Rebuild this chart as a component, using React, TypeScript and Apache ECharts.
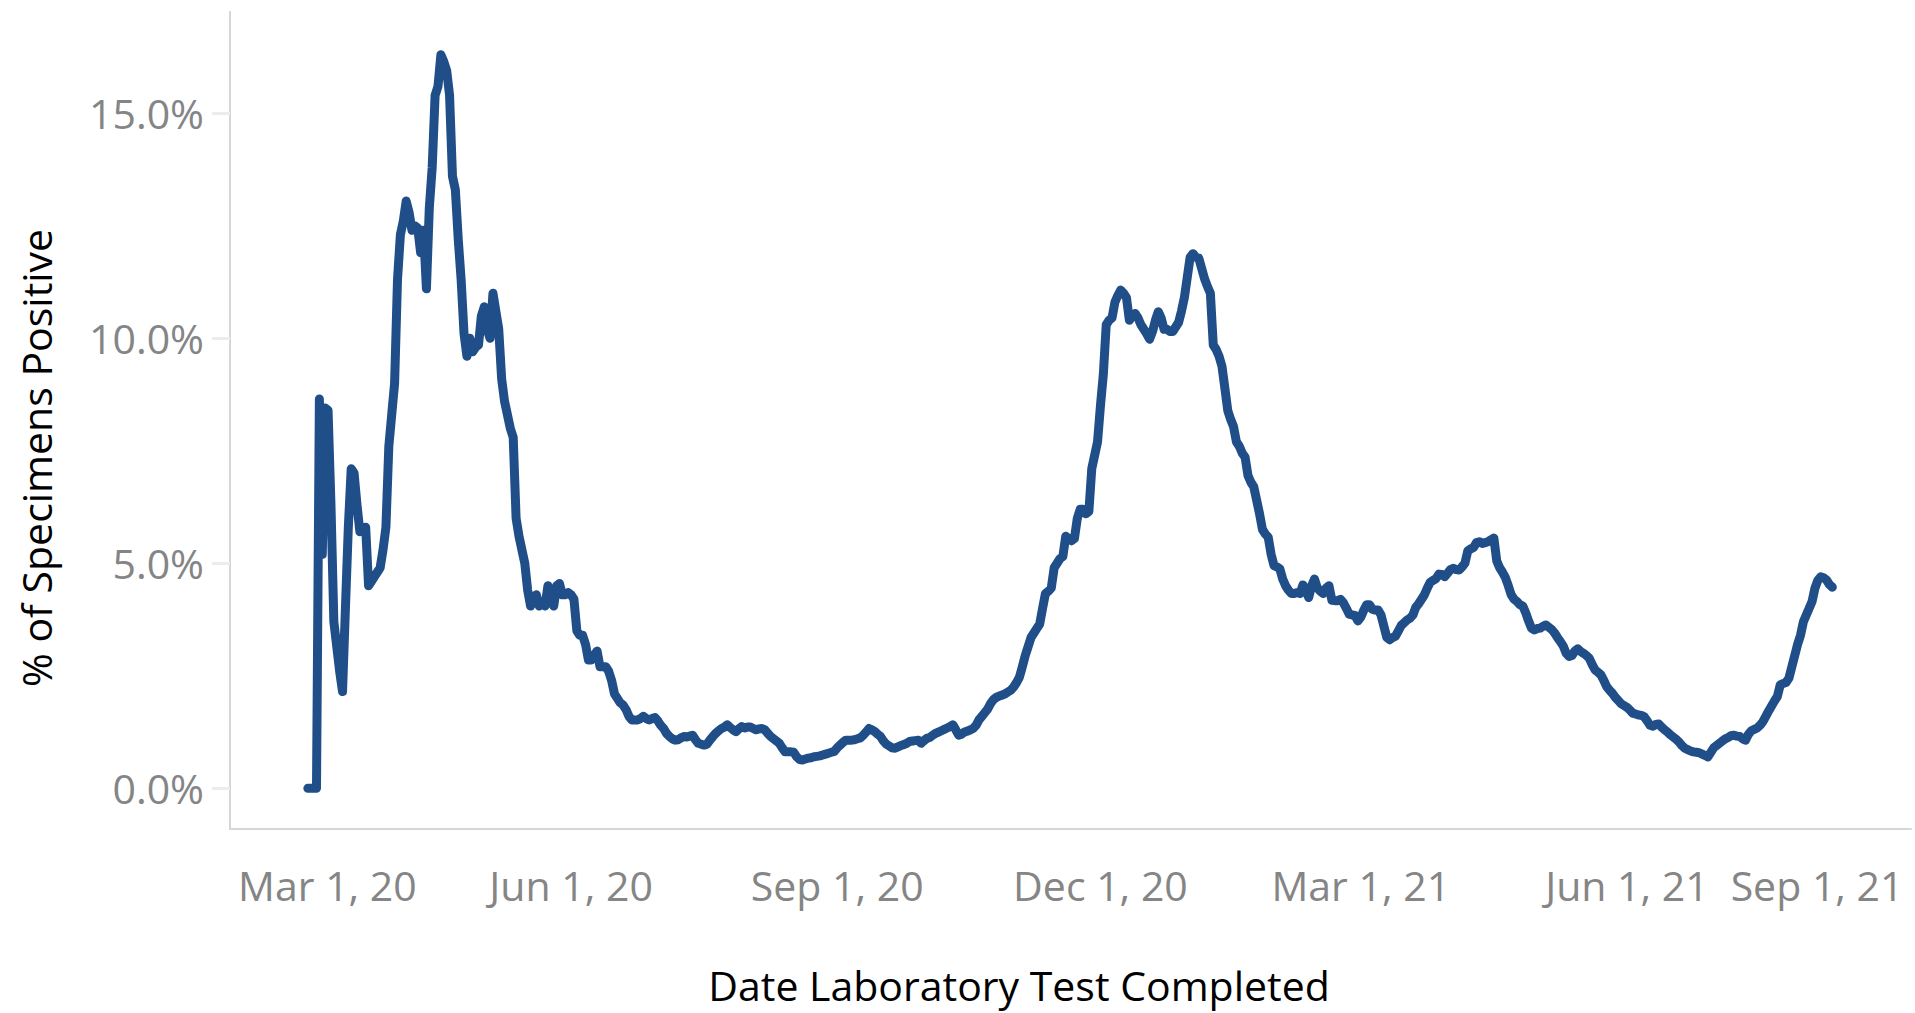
import { useEffect, useRef } from 'react';
import * as echarts from 'echarts';

// Day index = days since Mar 1, 2020; first reading is on day 1 (Mar 2, 2020)
const FIRST_DAY = 1;

// Daily % of specimens positive
const positivity: number[] = [
  0, 0, 0, 0, 8.65, 5.2, 8.45, 8.4, 6.3, 3.7,
  3.15, 2.6, 2.15, 4.0, 5.8, 7.1, 7.0, 6.3, 5.7, 5.75,
  5.8, 4.5, 4.6, 4.7, 4.8, 4.9, 5.3, 5.8, 7.6, 8.3,
  9.0, 11.3, 12.3, 12.6, 13.05, 12.8, 12.4, 12.5, 12.45, 11.9,
  12.4, 11.1, 12.9, 13.8, 15.4, 15.6, 16.3, 16.15, 15.95, 15.4,
  13.6, 13.3, 12.2, 11.3, 10.1, 9.6, 10.0, 9.7, 9.8, 9.85,
  10.5, 10.7, 10.2, 10.0, 11.0, 10.6, 10.2, 9.1, 8.6, 8.3,
  8.0, 7.8, 6.0, 5.6, 5.3, 5.0, 4.4, 4.05, 4.25, 4.3,
  4.05, 4.1, 4.05, 4.5, 4.2, 4.05, 4.5, 4.55, 4.3, 4.3,
  4.35, 4.3, 4.2, 3.5, 3.4, 3.4, 3.2, 2.85, 2.85, 2.95,
  3.05, 2.7, 2.7, 2.7, 2.6, 2.4, 2.1, 2.0, 1.9, 1.85,
  1.75, 1.6, 1.52, 1.52, 1.52, 1.55, 1.6, 1.55, 1.52, 1.55,
  1.57, 1.5, 1.4, 1.33, 1.22, 1.15, 1.1, 1.07, 1.08, 1.12,
  1.15, 1.14, 1.16, 1.18, 1.08, 1.0, 0.98, 0.96, 0.98, 1.07,
  1.15, 1.22, 1.28, 1.33, 1.36, 1.41, 1.35, 1.3, 1.26, 1.32,
  1.37, 1.34, 1.36, 1.36, 1.33, 1.3, 1.32, 1.33, 1.3, 1.22,
  1.15, 1.1, 1.05, 1.0, 0.9, 0.81, 0.81, 0.81, 0.8, 0.7,
  0.64, 0.63, 0.65, 0.67, 0.68, 0.7, 0.71, 0.72, 0.74, 0.76,
  0.78, 0.8, 0.82, 0.9, 0.96, 1.02, 1.07, 1.07, 1.07, 1.08,
  1.1, 1.12, 1.18, 1.25, 1.33, 1.3, 1.26, 1.2, 1.15, 1.05,
  0.98, 0.94, 0.9, 0.89, 0.92, 0.95, 0.97, 1.0, 1.04, 1.05,
  1.06, 1.07, 1.0, 1.06, 1.11, 1.13, 1.18, 1.22, 1.25, 1.28,
  1.31, 1.34, 1.37, 1.41, 1.3, 1.18, 1.2, 1.25, 1.27, 1.3,
  1.33, 1.4, 1.52, 1.6, 1.68, 1.76, 1.88, 1.97, 2.02, 2.05,
  2.07, 2.1, 2.14, 2.18, 2.25, 2.35, 2.47, 2.7, 2.95, 3.15,
  3.35, 3.45, 3.55, 3.65, 4.0, 4.33, 4.38, 4.45, 4.9, 5.0,
  5.1, 5.15, 5.6, 5.55, 5.5, 5.55, 6.0, 6.2, 6.2, 6.1,
  6.15, 7.1, 7.4, 7.7, 8.5, 9.2, 10.3, 10.4, 10.45, 10.8,
  10.95, 11.07, 11.0, 10.9, 10.4, 10.5, 10.55, 10.45, 10.3, 10.2,
  10.1, 9.98, 10.15, 10.4, 10.59, 10.45, 10.2, 10.2, 10.15, 10.15,
  10.25, 10.35, 10.6, 10.9, 11.35, 11.8, 11.88, 11.8, 11.78, 11.55,
  11.32, 11.15, 11.0, 9.85, 9.75, 9.6, 9.38, 8.9, 8.4, 8.2,
  8.04, 7.7, 7.6, 7.45, 7.36, 6.95, 6.8, 6.7, 6.4, 6.1,
  5.75, 5.65, 5.58, 5.2, 4.95, 4.92, 4.88, 4.65, 4.5, 4.4,
  4.33, 4.33, 4.35, 4.33, 4.52, 4.4, 4.24, 4.5, 4.65, 4.45,
  4.38, 4.33, 4.45, 4.5, 4.18, 4.17, 4.17, 4.2, 4.12, 4.0,
  3.87, 3.85, 3.84, 3.72, 3.8, 3.95, 4.08, 4.08, 3.98, 3.96,
  3.96, 3.85, 3.6, 3.35, 3.3, 3.35, 3.38, 3.5, 3.62, 3.68,
  3.74, 3.78, 3.85, 4.02, 4.1, 4.2, 4.3, 4.45, 4.58, 4.62,
  4.66, 4.76, 4.75, 4.7, 4.78, 4.86, 4.89, 4.86, 4.85, 4.92,
  5.0, 5.28, 5.32, 5.35, 5.46, 5.48, 5.44, 5.46, 5.48, 5.52,
  5.56, 5.05, 4.9, 4.8, 4.68, 4.5, 4.3, 4.2, 4.15, 4.08,
  4.05, 3.9, 3.72, 3.56, 3.52, 3.55, 3.56, 3.6, 3.63, 3.58,
  3.53, 3.45, 3.35, 3.26, 3.16, 3.0, 2.93, 2.95, 3.05, 3.1,
  3.04, 3.0, 2.95, 2.89, 2.75, 2.63, 2.58, 2.52, 2.4, 2.26,
  2.18, 2.11, 2.02, 1.95, 1.88, 1.84, 1.8, 1.74, 1.67, 1.65,
  1.63, 1.62, 1.59, 1.5, 1.4, 1.38, 1.42, 1.43, 1.36, 1.3,
  1.25, 1.19, 1.14, 1.09, 1.03, 0.95, 0.89, 0.86, 0.83, 0.81,
  0.8, 0.79, 0.76, 0.73, 0.7, 0.8, 0.9, 0.95, 1.0, 1.05,
  1.1, 1.13, 1.17, 1.18, 1.16, 1.15, 1.1, 1.07, 1.2, 1.28,
  1.31, 1.34, 1.4, 1.48, 1.6, 1.72, 1.83, 1.94, 2.04, 2.3,
  2.33, 2.35, 2.45, 2.7, 2.95, 3.2, 3.4, 3.7, 3.85, 4.0,
  4.15, 4.45, 4.62, 4.7, 4.68, 4.63, 4.53, 4.47,
];

// X tick positions (days since Mar 1, 2020) and their labels
const xTickDays = [0, 92, 184, 275, 365, 457, 549];
const xTickLabels = ['Mar 1, 20', 'Jun 1, 20', 'Sep 1, 20', 'Dec 1, 20', 'Mar 1, 21', 'Jun 1, 21', 'Sep 1, 21'];

// Y tick values (%)
const yTickValues = [0, 5, 10, 15];

// Axis extents
const X_MIN = -25.9;
const X_MAX = 555.2;
const Y_MIN = -0.904;
const Y_MAX = 17.25;

const xAxisTitle = 'Date Laboratory Test Completed';
const yAxisTitle = '% of Specimens Positive';

const FONT = '"Open Sans", "Noto Sans", sans-serif';
const TICK_COLOR = '#858585';
const LINE_COLOR = '#1f4e89';

export default function App() {
  const ref = useRef<HTMLDivElement>(null);

  useEffect(() => {
    if (!ref.current) return;
    const chart = echarts.init(ref.current, undefined, { renderer: 'svg' });
    const labelBase = { fontFamily: FONT, fontSize: 41, color: TICK_COLOR, fontWeight: 'normal' as any };
    const lastIdx = xTickDays.length - 1;

    chart.setOption({
      animation: false,
      backgroundColor: '#ffffff',
      grid: { left: 230, right: 4, top: 12, bottom: 184, containLabel: false },
      xAxis: {
        type: 'value',
        min: X_MIN,
        max: X_MAX,
        axisLine: { show: true, onZero: false, lineStyle: { color: '#d6d6d6', width: 2 } },
        axisTick: { show: false },
        splitLine: { show: false },
        axisLabel: {
          customValues: xTickDays,
          margin: 35,
          ...labelBase,
          formatter: (value: number) => {
            const i = xTickDays.indexOf(Math.round(value));
            const t = i >= 0 ? xTickLabels[i] : '';
            if (i === 0) return `{first|${t}}`;
            if (i === lastIdx) return `{last|${t}}`;
            return `{mid|${t}}`;
          },
          rich: {
            first: { ...labelBase, padding: [0, 0, 0, 45] },
            mid: { ...labelBase },
            last: { ...labelBase, padding: [0, 152, 0, 0] },
          },
        },
      },
      yAxis: {
        type: 'value',
        min: Y_MIN,
        max: Y_MAX,
        axisLine: { show: true, onZero: false, lineStyle: { color: '#d6d6d6', width: 2 } },
        axisTick: {
          show: true,
          customValues: yTickValues,
          length: 18,
          lineStyle: { color: '#ececec', width: 3 },
        },
        splitLine: { show: false },
        axisLabel: {
          customValues: yTickValues,
          margin: 26,
          ...labelBase,
          formatter: (v: number) => `${v.toFixed(1)}%`,
        },
      },
      graphic: [
        {
          type: 'text',
          x: 1019,
          y: 985,
          style: {
            text: xAxisTitle,
            fontFamily: FONT,
            fontSize: 41,
            fill: '#000000',
            textAlign: 'center',
            textVerticalAlign: 'middle',
          },
        },
        {
          type: 'text',
          x: 36,
          y: 458,
          rotation: Math.PI / 2,
          style: {
            text: yAxisTitle,
            fontFamily: FONT,
            fontSize: 41,
            fill: '#000000',
            textAlign: 'center',
            textVerticalAlign: 'middle',
          },
        },
      ],
      series: [
        {
          type: 'line',
          data: positivity.map((v, i) => [FIRST_DAY + i, v]),
          showSymbol: false,
          symbol: 'none',
          lineStyle: { color: LINE_COLOR, width: 9, cap: 'round', join: 'round' },
          clip: false,
        },
      ],
    });

    return () => chart.dispose();
  }, []);

  return (
    <div
      ref={ref}
      style={{ position: 'fixed', left: 0, top: 0, width: 1915, height: 1013, background: '#fff' }}
    />
  );
}
